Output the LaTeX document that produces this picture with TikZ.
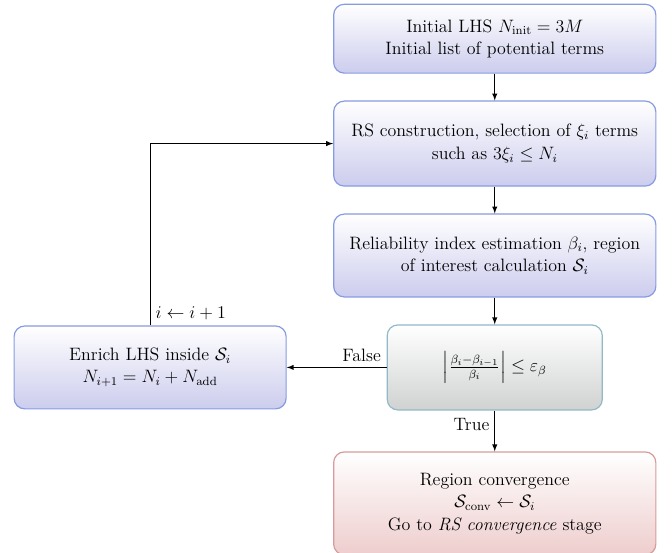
\documentclass[tikz,border=0pt]{standalone}
\usepackage{amssymb,latexsym}
\usepackage{tikz}
\usetikzlibrary{positioning,arrows}

\definecolor{boxblue}{RGB}{204,204,238}
\definecolor{lineblue}{RGB}{135,155,225}
\definecolor{boxgray}{RGB}{208,210,210}
\definecolor{linegray}{RGB}{145,185,200}
\definecolor{boxred}{RGB}{238,205,205}
\definecolor{linered}{RGB}{215,155,155}

\tikzset{
  block/.style={rectangle, rounded corners=2.5mm, draw=lineblue, thick,
    top color=white, bottom color=boxblue, align=center,
    minimum width=7.58cm, minimum height=1.95cm},
  test/.style={block, draw=linegray, bottom color=boxgray, minimum width=5.06cm, minimum height=2cm},
  final/.style={block, draw=linered, bottom color=boxred, minimum height=2.42cm}
}

\begin{document}
\begin{tikzpicture}[node distance=0.63cm, >=latex, font=\fontsize{12}{15}\selectfont]
  \useasboundingbox (0,0) rectangle (15.81,-12.99);

  \node[block, minimum height=1.62cm] (init) at (11.64,-0.91)
    {Initial LHS $N_{\mathrm{init}} = 3M$\\ Initial list of potential terms};
  \node[block, minimum height=2cm, below=of init] (rs)
    {RS construction, selection of $\xi_i$ terms\\ such as $3\xi_i \leq N_i$};
  \node[block, below=of rs] (rel)
    {Reliability index estimation $\beta_i$, region\\ of interest calculation $\mathcal{S}_i$};
  \node[test, below=of rel] (conv)
    {$\left|\frac{\beta_i-\beta_{i-1}}{\beta_i}\right| \leq \varepsilon_\beta$};
  \node[block, minimum width=6.4cm, left=2.35cm of conv] (enrich)
    {Enrich LHS inside $\mathcal{S}_i$\\ $N_{i+1} = N_i + N_{\mathrm{add}}$};
  \node[final, below=0.96cm of conv] (region)
    {Region convergence\\ $\mathcal{S}_{\mathrm{conv}} \leftarrow \mathcal{S}_i$\\ Go to \textit{RS convergence} stage};

  \path[->, semithick]
  (init) edge (rs)
  (rs)   edge (rel)
  (rel)  edge (conv)
  (conv) edge node [above, pos=0.25] {False} (enrich)
         edge node [left, pos=0.35] {True} (region)
         ;
  \draw[->, semithick] (enrich.north) node [above right] {$i \leftarrow i+1$} |- (rs.west);
\end{tikzpicture}
\end{document}
